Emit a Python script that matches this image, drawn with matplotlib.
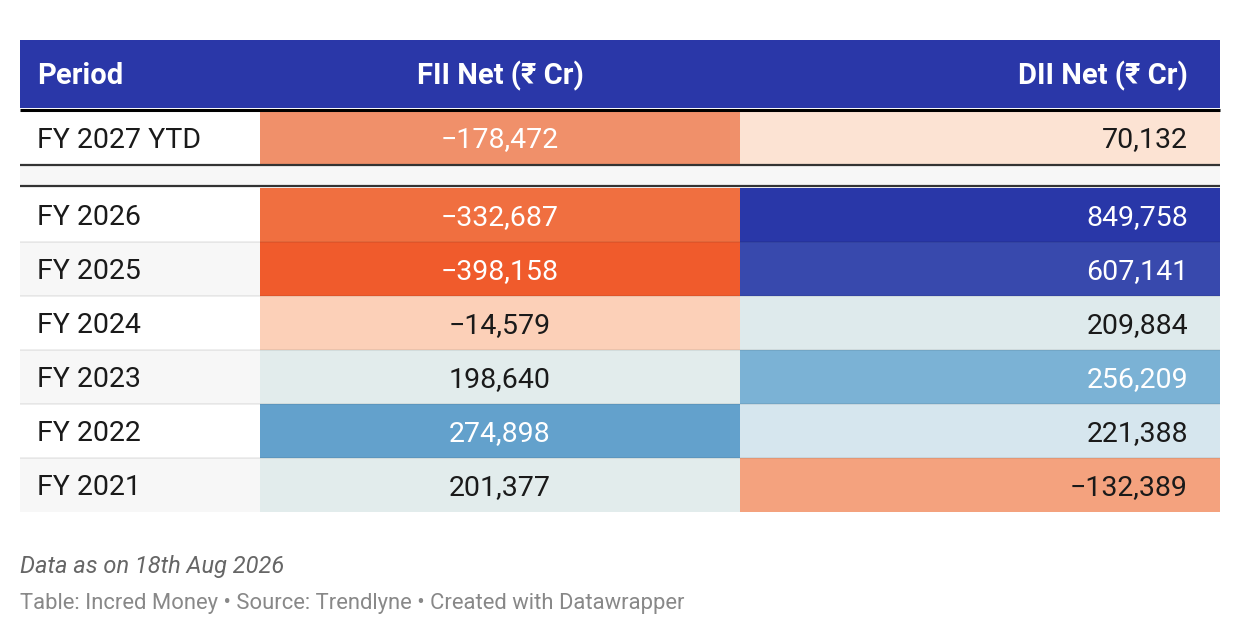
import matplotlib
matplotlib.use("Agg")
import matplotlib.pyplot as plt
from matplotlib.patches import Rectangle
from matplotlib.colors import to_rgb

plt.rcParams['font.family'] = ['Roboto', 'DejaVu Sans']

# data
headers = ["Period", "FII Net (₹ Cr)", "DII Net (₹ Cr)"]
ytd_period = "FY 2027 YTD"
ytd_fii = -178472
ytd_dii = 70132
periods = ["FY 2026", "FY 2025", "FY 2024", "FY 2023", "FY 2022", "FY 2021"]
fii_net = [-332687, -398158, -14579, 198640, 274898, 201377]
dii_net = [849758, 607141, 209884, 256209, 221388, -132389]
note = "Data as on 18th Aug 2026"
source = "Table: Incred Money • Source: Trendlyne • Created with Datawrapper"

# cell colours
ytd_colors = ["#f0906a", "#fce3d3"]
fii_colors = ["#f06f40", "#f05b2c", "#fcd0b8", "#e2ecec", "#63a1cc", "#e2ecec"]
dii_colors = ["#2937a8", "#3849ad", "#deeaec", "#7bb2d5", "#d6e6ee", "#f4a27e"]


def fmt(v):
    s = f"{abs(v):,}"
    return ("\u2212" + s) if v < 0 else s


def txt_color(c):
    r, g, b = to_rgb(c)
    lum = 0.299 * r + 0.587 * g + 0.114 * b
    return "white" if lum < 0.69 else "#1a1a1a"


W, H = 1240, 636
fig = plt.figure(figsize=(W / 100, H / 100), dpi=100)
ax = fig.add_axes([0, 0, 1, 1])
ax.set_xlim(0, W)
ax.set_ylim(H, 0)
ax.axis("off")

x0, x1, x2, x3 = 20, 260, 740, 1220
fs = 20.5
hfs = 21
base = 10  # baseline offset below row centre

# header
ax.add_patch(Rectangle((x0, 40), x3 - x0, 68, color="#2a37a8", lw=0))
ax.plot([x0, x3], [109.5, 109.5], color="black", lw=2.2, solid_capstyle="butt")
hy = 74 + base
ax.text(37, hy, headers[0], color="white", fontsize=hfs, fontweight="bold", va="baseline", ha="left")
ax.text((x1 + x2) / 2, hy, headers[1], color="white", fontsize=hfs, fontweight="bold", va="baseline", ha="center")
ax.text(x3 - 32, hy, headers[2], color="white", fontsize=hfs, fontweight="bold", va="baseline", ha="right")

# YTD row
ty, tb = 111, 164
ax.add_patch(Rectangle((x1, ty), x2 - x1, tb - ty, color=ytd_colors[0], lw=0))
ax.add_patch(Rectangle((x2, ty), x3 - x2, tb - ty, color=ytd_colors[1], lw=0))
cy = (ty + tb) / 2 + base
ax.text(37, cy, ytd_period, color="#1a1a1a", fontsize=fs, va="baseline", ha="left")
ax.text((x1 + x2) / 2, cy, fmt(ytd_fii), color=txt_color(ytd_colors[0]), fontsize=fs, va="baseline", ha="center")
ax.text(x3 - 32, cy, fmt(ytd_dii), color=txt_color(ytd_colors[1]), fontsize=fs, va="baseline", ha="right")

# gap band
ax.add_patch(Rectangle((x0, 166), x3 - x0, 19, color="#f7f7f7", lw=0))
ax.plot([x0, x3], [165, 165], color="#333333", lw=1.6, solid_capstyle="butt")
ax.plot([x0, x3], [186, 186], color="#333333", lw=1.6, solid_capstyle="butt")

# main rows
top, rh = 188, 54
for i, p in enumerate(periods):
    y = top + i * rh
    bg = "#f7f7f7" if i % 2 == 1 else "white"
    ax.add_patch(Rectangle((x0, y), x1 - x0, rh, color=bg, lw=0))
    ax.add_patch(Rectangle((x1, y), x2 - x1, rh, color=fii_colors[i], lw=0))
    ax.add_patch(Rectangle((x2, y), x3 - x2, rh, color=dii_colors[i], lw=0))
    if i > 0:
        ax.plot([x0, x3], [y, y], color="black", alpha=0.08, lw=1.2, solid_capstyle="butt")
    cy = y + rh / 2 + base
    ax.text(37, cy, p, color="#1a1a1a", fontsize=fs, va="baseline", ha="left")
    ax.text((x1 + x2) / 2, cy, fmt(fii_net[i]), color=txt_color(fii_colors[i]), fontsize=fs, va="baseline", ha="center")
    ax.text(x3 - 32, cy, fmt(dii_net[i]), color=txt_color(dii_colors[i]), fontsize=fs, va="baseline", ha="right")

# footer
ax.text(20, 573, note, color="#666666", fontsize=17, fontstyle="italic", va="baseline", ha="left")
ax.text(20, 609, source, color="#888888", fontsize=15.8, va="baseline", ha="left")

fig.savefig("out.png", dpi=100, facecolor="white")
